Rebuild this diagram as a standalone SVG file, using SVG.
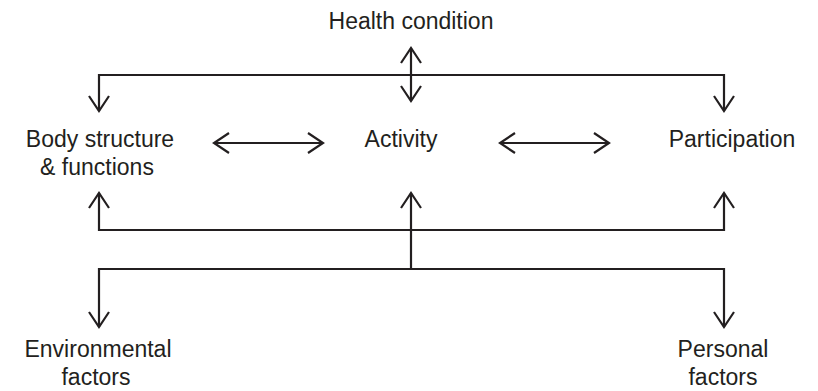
<svg xmlns="http://www.w3.org/2000/svg" width="818" height="391" viewBox="0 0 818 391">
<style>
text{font-family:"Liberation Sans","Open Sans",sans-serif;font-size:23px;fill:#231f20;text-anchor:middle}
.c{fill:none;stroke:#231f20;stroke-width:2.2}
</style>
<defs>
<marker id="ah" viewBox="-18 -12 20 24" refX="0" refY="0" markerWidth="20" markerHeight="24" markerUnits="userSpaceOnUse" orient="auto-start-reverse">
<path d="M -15 -10 L 0 0 L -15 10" fill="none" stroke="#231f20" stroke-width="2.2"/>
</marker>
</defs>
<g id="connectors">
<path class="c" d="M99 111 V75 H724 V111" marker-start="url(#ah)" marker-end="url(#ah)"/>
<path class="c" d="M411 48 V101" marker-start="url(#ah)" marker-end="url(#ah)"/>
<path class="c" d="M214 143 H323" marker-start="url(#ah)" marker-end="url(#ah)"/>
<path class="c" d="M500 143 H609" marker-start="url(#ah)" marker-end="url(#ah)"/>
<path class="c" d="M99 193 V230 H724 V193" marker-start="url(#ah)" marker-end="url(#ah)"/>
<path class="c" d="M411 269 V193" marker-end="url(#ah)"/>
<path class="c" d="M99 327 V269 H724 V327" marker-start="url(#ah)" marker-end="url(#ah)"/>
</g>
<g id="health"><text x="411" y="29">Health condition</text></g>
<g id="body"><text x="100" y="147">Body structure</text><text x="97" y="175">&amp; functions</text></g>
<g id="activity"><text x="401" y="147">Activity</text></g>
<g id="participation"><text x="732" y="147">Participation</text></g>
<g id="environmental"><text x="98" y="357">Environmental</text><text x="96" y="385">factors</text></g>
<g id="personal"><text x="723" y="357">Personal</text><text x="723" y="385">factors</text></g>
</svg>
